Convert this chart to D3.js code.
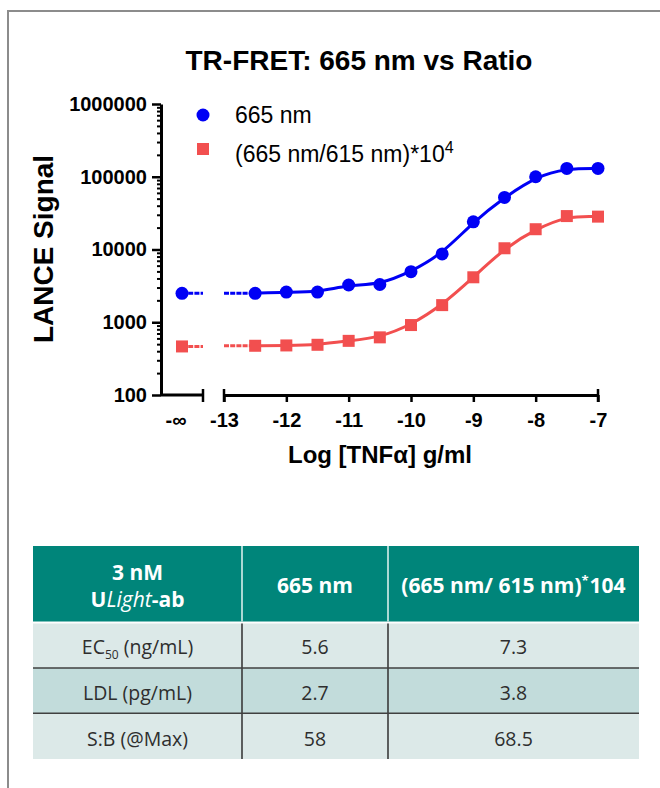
<!DOCTYPE html>
<html><head><meta charset="utf-8">
<script src="https://cdn.jsdelivr.net/npm/d3@7"></script>
<style>body{margin:0;background:#fff} svg{display:block}</style>
</head><body><svg id="c" width="660" height="788"></svg>
<script>
// ---------- data ----------
const logConc = [-12.5, -12, -11.5, -11, -10.5, -10, -9.5, -9, -8.5, -8, -7.5, -7];
const signal665 = [2500, 2600, 2600, 3250, 3300, 4950, 8700, 24000, 52000, 100000, 130000, 130000];
const signalRatio = [475, 480, 490, 555, 620, 915, 1720, 4150, 10400, 19000, 28800, 28300];
const zero665 = 2500;      // value at -infinity (no TNFa)
const zeroRatio = 465;
const yTicks = [100, 1000, 10000, 100000, 1000000];
const xTicks = [-13, -12, -11, -10, -9, -8, -7];
const seriesNames = ["665 nm", "(665 nm/615 nm)*10"];
const seriesSup = ["", "4"];
const seriesColors = ["#0000f5", "#f24f4f"];
const titleText = "TR-FRET: 665 nm vs Ratio";
const yTitle = "LANCE Signal";
const xTitle = "Log [TNF\u03B1] g/ml";

const tableRowLabels = ["EC|50| (ng/mL)", "LDL (pg/mL)", "S:B (@Max)"];
const table665 = ["5.6", "2.7", "58"];
const tableRatio = ["7.3", "3.8", "68.5"];

// ---------- setup ----------
const svg = d3.select("#c");
svg.append("rect").attr("width", 660).attr("height", 788).attr("fill", "#fff");
svg.append("path").attr("d", "M8,788V11H660").attr("fill", "none")
  .attr("stroke", "#8c8c8c").attr("stroke-width", 2);

const F = "'Liberation Sans', Arial, sans-serif";
const y = d3.scaleLog().domain([100, 1e6]).range([395, 104]);
const x = d3.scaleLinear().domain([-13, -7]).range([224, 598]);
const xb = d3.scaleLinear().domain([0, 1]).range([161, 203]); // break segment for -inf

// title
svg.append("text").attr("x", 359).attr("y", 70).attr("text-anchor", "middle")
  .attr("font-family", F).attr("font-weight", "bold").attr("font-size", 28).text(titleText);

// y axis title
svg.append("text").attr("transform", "translate(53,249) rotate(-90)")
  .attr("text-anchor", "middle").attr("font-family", F).attr("font-weight", "bold")
  .attr("font-size", 28).text(yTitle);

// x axis title
svg.append("text").attr("x", 380).attr("y", 463).attr("text-anchor", "middle")
  .attr("font-family", F).attr("font-weight", "bold").attr("font-size", 24).text(xTitle);

// y axis minor
const minor = y.ticks().filter(v => !yTicks.includes(v));
const gMinor = svg.append("g").attr("transform", "translate(161,0)")
  .call(d3.axisLeft(y).tickValues(minor).tickSize(4).tickFormat(""));
gMinor.select(".domain").remove();
gMinor.selectAll("line").attr("stroke", "#000").attr("stroke-width", 2);

// y axis major
const gy = svg.append("g").attr("transform", "translate(161,0)")
  .call(d3.axisLeft(y).tickValues(yTicks).tickSize(9).tickPadding(5).tickSizeOuter(0)
    .tickFormat(d3.format("d")));
gy.selectAll("line").attr("stroke", "#000").attr("stroke-width", 2.5);
gy.select(".domain").attr("stroke", "#000").attr("stroke-width", 3);
gy.selectAll("text").attr("font-family", F).attr("font-weight", "bold")
  .attr("font-size", 20).attr("fill", "#000");

// x axis main segment
const gx = svg.append("g").attr("transform", "translate(0,395)")
  .call(d3.axisBottom(x).tickValues(xTicks).tickSize(7).tickPadding(11).tickSizeOuter(0)
    .tickFormat(d => String(d)));
gx.select(".domain").attr("stroke", "#000").attr("stroke-width", 3);
gx.selectAll("line").attr("stroke", "#000").attr("stroke-width", 2.5);
gx.selectAll("text").attr("font-family", F).attr("font-weight", "bold")
  .attr("font-size", 20).attr("fill", "#000");

// break segment and caps
svg.append("line").attr("x1", xb(0)).attr("x2", xb(1)).attr("y1", 395).attr("y2", 395)
  .attr("stroke", "#000").attr("stroke-width", 3);
[xb(1), x(-13), x(-7)].forEach(cx => {
  svg.append("line").attr("x1", cx).attr("x2", cx).attr("y1", 389).attr("y2", 402)
    .attr("stroke", "#000").attr("stroke-width", 2.5);
});
svg.append("text").attr("x", xb(0.5) - 6).attr("y", 395 + 7 + 11).attr("dy", "0.71em")
  .attr("text-anchor", "middle").attr("font-family", F).attr("font-weight", "bold")
  .attr("font-size", 20).text("-\u221E");

// series
const series = [
  { vals: signal665, zero: zero665, color: seriesColors[0], shape: "circle" },
  { vals: signalRatio, zero: zeroRatio, color: seriesColors[1], shape: "square" }
];
const line = d3.line().x(d => x(d[0])).y(d => y(d[1])).curve(d3.curveBasis);

series.forEach(s => {
  const pts = logConc.map((c, i) => [c, s.vals[i]]);
  // extension segments (fine dashed)
  svg.append("line").attr("x1", xb(0.5)).attr("x2", xb(1))
    .attr("y1", y(s.zero)).attr("y2", y(s.zero))
    .attr("stroke", s.color).attr("stroke-width", 3).attr("stroke-dasharray", "5,1.2");
  svg.append("line").attr("x1", x(-13)).attr("x2", x(logConc[0]))
    .attr("y1", y(s.vals[0])).attr("y2", y(s.vals[0]))
    .attr("stroke", s.color).attr("stroke-width", 3).attr("stroke-dasharray", "5,1.2");
  svg.append("path").attr("d", line(pts)).attr("fill", "none")
    .attr("stroke", s.color).attr("stroke-width", 3);
  const all = [[null, s.zero, xb(0.5)]].concat(pts.map(p => [p[0], p[1], x(p[0])]));
  all.forEach(p => {
    if (s.shape === "circle") {
      svg.append("circle").attr("cx", p[2]).attr("cy", y(p[1])).attr("r", 6.5).attr("fill", s.color);
    } else {
      svg.append("rect").attr("x", p[2] - 6).attr("y", y(p[1]) - 6)
        .attr("width", 12).attr("height", 12).attr("fill", s.color);
    }
  });
});

// legend
const legY = [115, 149];
series.forEach((s, i) => {
  if (s.shape === "circle") {
    svg.append("circle").attr("cx", 203).attr("cy", legY[i]).attr("r", 6.5).attr("fill", s.color);
  } else {
    svg.append("rect").attr("x", 197).attr("y", legY[i] - 6).attr("width", 12).attr("height", 12)
      .attr("fill", s.color);
  }
  const t = svg.append("text").attr("x", 235).attr("y", i === 0 ? 123 : 162)
    .attr("font-family", F).attr("font-size", 23).attr("fill", "#000");
  t.append("tspan").text(seriesNames[i]);
  if (seriesSup[i]) t.append("tspan").attr("dy", -9).attr("font-size", 16).text(seriesSup[i]);
});

// ---------- table ----------
const TF = "'Open Sans', 'Noto Sans', sans-serif";
const colX = [33, 242, 388, 639];
const hdrTop = 546, hdrBot = 621.5, bodyTop = 623.5;
const rowEdges = [bodyTop, 668, 713.3, 759];
const rowFill = ["#dce9e8", "#c2dcdb", "#dce9e8"];
svg.append("rect").attr("x", colX[0]).attr("y", hdrTop).attr("width", colX[3] - colX[0])
  .attr("height", hdrBot - hdrTop).attr("fill", "#00857a");
rowFill.forEach((f, i) => {
  svg.append("rect").attr("x", colX[0]).attr("y", rowEdges[i]).attr("width", colX[3] - colX[0])
    .attr("height", rowEdges[i + 1] - rowEdges[i]).attr("fill", f);
});
[colX[1], colX[2]].forEach(cx => {
  svg.append("line").attr("x1", cx).attr("x2", cx).attr("y1", hdrTop).attr("y2", hdrBot)
    .attr("stroke", "#d8eeeb").attr("stroke-width", 1.6);
  svg.append("line").attr("x1", cx).attr("x2", cx).attr("y1", bodyTop).attr("y2", rowEdges[3])
    .attr("stroke", "#3a3a3a").attr("stroke-width", 1.6);
});
[rowEdges[1], rowEdges[2]].forEach(ry => {
  svg.append("line").attr("x1", colX[0]).attr("x2", colX[3]).attr("y1", ry).attr("y2", ry)
    .attr("stroke", "#404040").attr("stroke-width", 1.5);
});
const colC = [0, 1, 2].map(i => (colX[i] + colX[i + 1]) / 2);
const HS = 21, BS = 19.5;

// header text
svg.append("text").attr("x", colC[0]).attr("y", 580).attr("text-anchor", "middle")
  .attr("font-family", TF).attr("font-weight", "bold").attr("font-size", HS).attr("fill", "#fff")
  .text("3 nM");
const h1b = svg.append("text").attr("x", colC[0]).attr("y", 607).attr("text-anchor", "middle")
  .attr("font-family", TF).attr("font-weight", "bold").attr("font-size", HS).attr("fill", "#fff");
h1b.append("tspan").text("U");
h1b.append("tspan").attr("font-style", "italic").attr("font-weight", "normal").text("Light");
h1b.append("tspan").text("-ab");
svg.append("text").attr("x", colC[1]).attr("y", 593).attr("text-anchor", "middle")
  .attr("font-family", TF).attr("font-weight", "bold").attr("font-size", HS).attr("fill", "#fff")
  .text("665 nm");
const h3 = svg.append("text").attr("x", colC[2]).attr("y", 593).attr("text-anchor", "middle")
  .attr("font-family", TF).attr("font-weight", "bold").attr("font-size", HS).attr("fill", "#fff");
h3.append("tspan").text("(665 nm/ 615 nm)");
h3.append("tspan").attr("dy", -8).attr("font-size", 13).text("*");
h3.append("tspan").attr("dy", 8).attr("dx", 1).text("104");

// body text
const bodyBase = [654, 700, 746];
tableRowLabels.forEach((lab, i) => {
  const t = svg.append("text").attr("x", colC[0]).attr("y", bodyBase[i]).attr("text-anchor", "middle")
    .attr("font-family", TF).attr("font-size", BS).attr("fill", "#2e2e2e");
  const parts = lab.split("|");
  if (parts.length === 3) {
    t.append("tspan").text(parts[0]);
    t.append("tspan").attr("dy", 5).attr("font-size", 12).text(parts[1]);
    t.append("tspan").attr("dy", -5).text(parts[2]);
  } else t.text(lab);
  svg.append("text").attr("x", colC[1]).attr("y", bodyBase[i]).attr("text-anchor", "middle")
    .attr("font-family", TF).attr("font-size", BS).attr("fill", "#2e2e2e").text(table665[i]);
  svg.append("text").attr("x", colC[2]).attr("y", bodyBase[i]).attr("text-anchor", "middle")
    .attr("font-family", TF).attr("font-size", BS).attr("fill", "#2e2e2e").text(tableRatio[i]);
});
</script></body></html>
